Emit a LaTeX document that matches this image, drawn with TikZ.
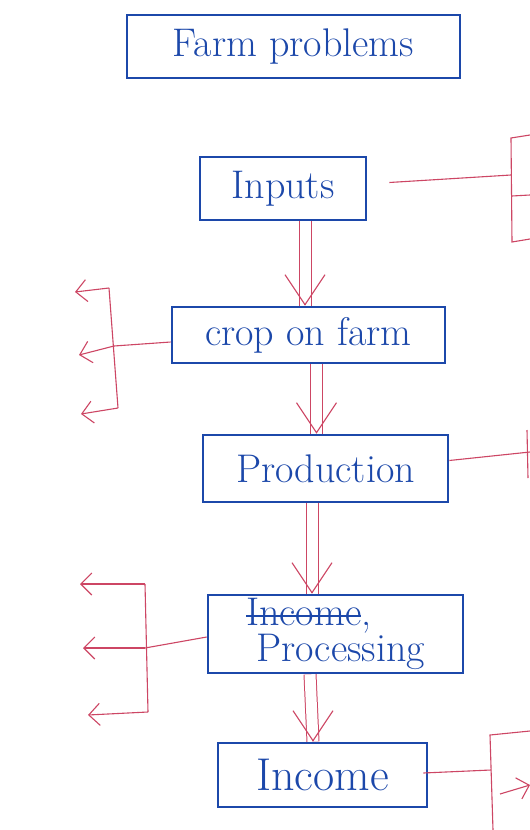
\documentclass[tikz,border=0pt]{standalone}
\usetikzlibrary{arrows.meta}
\definecolor{inkblue}{RGB}{28,72,170}
\definecolor{inkred}{RGB}{205,70,100}
\newcommand\mystrike[1]{\setbox0\hbox{#1}\rlap{\raisebox{0.22em}{\rule{\wd0}{2pt}}}\box0}
\begin{document}
\begin{tikzpicture}[x=1pt,y=-1pt,
  box/.style={draw=inkblue, line width=2.6pt, inner sep=0pt, text=inkblue,
    font=\fontsize{40}{32}\selectfont},
  redline/.style={draw=inkred, line width=1.1pt},
  shaft/.style={draw=inkred, line width=1pt, double=white, double distance=11pt},
  vtip/.style={draw=inkred, line width=1.1pt, -{Straight Barb[length=30pt,width=40pt,line width=1.1pt]}},
  ltip/.style={draw=inkred, line width=1.1pt, -{Straight Barb[length=11pt,width=22pt,line width=1.1pt]}}
]
\useasboundingbox (0,0) rectangle (530,830);
\fill[white] (0,0) rectangle (530,830);

% boxes
\node[box, minimum width=333pt, minimum height=63pt] (farm) at (293.5,46.5) {Farm problems};
\node[box, minimum width=166pt, minimum height=63pt] (inputs) at (283,188.5) {Inputs};
\node[box, minimum width=273pt, minimum height=56pt] (crop) at (308.5,335) {crop on farm};
\node[box, minimum width=245pt, minimum height=67pt] (prod) at (325.5,468.5) {Production};
\node[box, minimum width=255pt, minimum height=78pt, align=left] (proc) at (335.5,634)
  {\mystrike{Income},\\ \hspace*{10pt}Processing};
\node[box, minimum width=209pt, minimum height=64pt, font=\fontsize{46}{40}\selectfont] (inc) at (322.5,775) {Income};

% double arrows down
\coordinate (a1s) at ([xshift=22pt]inputs.south);
\coordinate (a1e) at ([xshift=-3.5pt]crop.north);
\draw[shaft] (a1s) -- (a1e);
\draw[vtip] (a1e) ++(0,-2) -- (a1e);

\coordinate (a2s) at ([xshift=8pt]crop.south);
\coordinate (a2e) at ([xshift=-9pt]prod.north);
\draw[shaft] (a2s) -- (a2e);
\draw[vtip] (a2e) ++(0,-2) -- (a2e);

\coordinate (a3s) at ([xshift=-13.5pt]prod.south);
\coordinate (a3e) at ([xshift=-23.5pt]proc.north);
\draw[shaft] (a3s) -- (a3e);
\draw[vtip] (a3e) ++(0,-2) -- (a3e);

\coordinate (a4s) at ([xshift=-25.5pt]proc.south);
\coordinate (a4e) at ([xshift=-9.5pt]inc.north);
\draw[shaft] (a4s) -- (a4e);
\draw[vtip] (a4e) ++(0,-2) -- (a4e);

% right of Inputs
\coordinate (r1) at (511,175);
\coordinate (r1t) at (511,138);
\coordinate (r1b) at (512,242);
\coordinate (r1m) at (512,196);
\coordinate (r1te) at (530,135);
\coordinate (r1me) at (530,195);
\coordinate (r1be) at (530,239);
\draw[redline] ([xshift=22pt,yshift=6pt]inputs.east) -- (r1);
\draw[redline] (r1te) -- (r1t) -- (r1b) -- (r1be);
\draw[redline] (r1m) -- (r1me);

% left of crop on farm
\coordinate (l1) at (114,346);
\coordinate (l1t) at (109,288);
\coordinate (l1b) at (118,408);
\coordinate (l1te) at (75,292);
\coordinate (l1me) at (79,355);
\coordinate (l1be) at (81,414);
\draw[redline] ([yshift=-7pt]crop.west) -- (l1);
\draw[redline] (l1t) -- (l1b);
\draw[ltip] (l1t) -- (l1te);
\draw[ltip] (l1) -- (l1me);
\draw[ltip] (l1b) -- (l1be);

% right of Production
\coordinate (r2t) at (527,430);
\coordinate (r2b) at (528,478);
\coordinate (r2e) at (530,452);
\draw[redline] ([yshift=8pt]prod.east) -- (r2e);
\draw[redline] (r2t) -- (r2b);

% left of Processing
\coordinate (l2) at (145,648);
\coordinate (l2t) at (145,584);
\coordinate (l2b) at (148,712);
\coordinate (l2te) at (80,584);
\coordinate (l2me) at (83,648);
\coordinate (l2be) at (88,715);
\draw[redline] ([yshift=-3pt]proc.west) -- (l2);
\draw[redline] (l2t) -- (l2b);
\draw[ltip] (l2t) -- (l2te);
\draw[ltip] (l2) -- (l2me);
\draw[ltip] (l2b) -- (l2be);

% right of Income
\coordinate (r3) at (491,770);
\coordinate (r3t) at (490,735);
\coordinate (r3b) at (493,830);
\coordinate (r3te) at (530,731);
\coordinate (r3as) at (500,794);
\coordinate (r3ae) at (530,785);
\draw[redline] ([xshift=-5pt,yshift=2pt]inc.east) -- (r3);
\draw[redline] (r3te) -- (r3t) -- (r3b);
\draw[ltip] (r3as) -- (r3ae);
\end{tikzpicture}
\end{document}
